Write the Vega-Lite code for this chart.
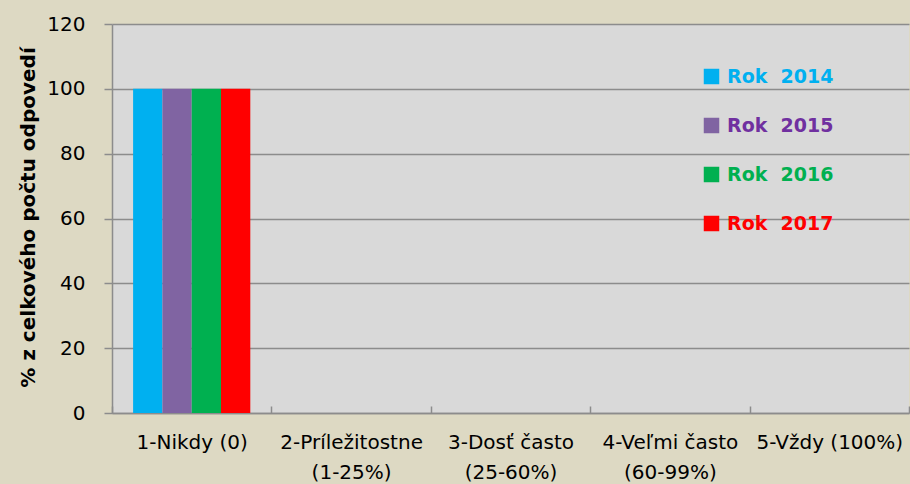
{
  "$schema": "https://vega.github.io/schema/vega-lite/v6.json",
  "width": 797,
  "height": 389,
  "autosize": {"type": "none"},
  "padding": {"left": 112, "top": 24, "right": 1, "bottom": 71},
  "background": "#ddd9c3",
  "config": {
    "view": {"fill": "#d9d9d9", "stroke": null},
    "font": "DejaVu Sans",
    "axis": {"labelFont": "DejaVu Sans", "titleFont": "DejaVu Sans"},
    "legend": {"labelFont": "DejaVu Sans"}
  },
  "data": {
    "values": [
      {"kategoria": "1-Nikdy (0)", "rok": "Rok  2014", "hodnota": 100},
      {"kategoria": "1-Nikdy (0)", "rok": "Rok  2015", "hodnota": 100},
      {"kategoria": "1-Nikdy (0)", "rok": "Rok  2016", "hodnota": 100},
      {"kategoria": "1-Nikdy (0)", "rok": "Rok  2017", "hodnota": 100},
      {"kategoria": "2-Príležitostne (1-25%)", "rok": "Rok  2014", "hodnota": 0},
      {"kategoria": "2-Príležitostne (1-25%)", "rok": "Rok  2015", "hodnota": 0},
      {"kategoria": "2-Príležitostne (1-25%)", "rok": "Rok  2016", "hodnota": 0},
      {"kategoria": "2-Príležitostne (1-25%)", "rok": "Rok  2017", "hodnota": 0},
      {"kategoria": "3-Dosť často (25-60%)", "rok": "Rok  2014", "hodnota": 0},
      {"kategoria": "3-Dosť často (25-60%)", "rok": "Rok  2015", "hodnota": 0},
      {"kategoria": "3-Dosť často (25-60%)", "rok": "Rok  2016", "hodnota": 0},
      {"kategoria": "3-Dosť často (25-60%)", "rok": "Rok  2017", "hodnota": 0},
      {"kategoria": "4-Veľmi často (60-99%)", "rok": "Rok  2014", "hodnota": 0},
      {"kategoria": "4-Veľmi často (60-99%)", "rok": "Rok  2015", "hodnota": 0},
      {"kategoria": "4-Veľmi často (60-99%)", "rok": "Rok  2016", "hodnota": 0},
      {"kategoria": "4-Veľmi často (60-99%)", "rok": "Rok  2017", "hodnota": 0},
      {"kategoria": "5-Vždy (100%)", "rok": "Rok  2014", "hodnota": 0},
      {"kategoria": "5-Vždy (100%)", "rok": "Rok  2015", "hodnota": 0},
      {"kategoria": "5-Vždy (100%)", "rok": "Rok  2016", "hodnota": 0},
      {"kategoria": "5-Vždy (100%)", "rok": "Rok  2017", "hodnota": 0}
    ]
  },
  "mark": {"type": "bar"},
  "encoding": {
    "x": {
      "field": "kategoria",
      "type": "nominal",
      "sort": null,
      "scale": {"paddingInner": 0, "paddingOuter": 0},
      "axis": {
        "title": null,
        "labelAngle": 0,
        "labelFontSize": 20,
        "labelColor": "#000000",
        "labelLineHeight": 30,
        "labelBaseline": "top",
        "labelPadding": 26,
        "labelOverlap": false,
        "tickBand": "extent",
        "tickSize": -7,
        "tickColor": "#8c8c8c",
        "tickWidth": 1.5,
        "domainColor": "#8c8c8c",
        "domainWidth": 1.5,
        "grid": false,
        "labelExpr": "(indexof(datum.label, 'Nikdy') >= 0 || indexof(datum.label, 'Vždy') >= 0) ? datum.label : split(replace(datum.label, ' (', '|('), '|')"
      }
    },
    "xOffset": {
      "field": "rok",
      "type": "nominal",
      "scale": {"paddingInner": 0, "paddingOuter": 0.72}
    },
    "y": {
      "field": "hodnota",
      "type": "quantitative",
      "scale": {"domain": [0, 120], "nice": false},
      "axis": {
        "title": "% z celkového počtu odpovedí",
        "titleFontSize": 20,
        "titleFontWeight": "bold",
        "titleColor": "#000000",
        "titleX": -84,
        "titleY": 193,
        "titleBaseline": "middle",
        "values": [0, 20, 40, 60, 80, 100, 120],
        "labelFontSize": 20,
        "labelColor": "#000000",
        "labelPadding": 19,
        "tickSize": 8,
        "tickColor": "#8c8c8c",
        "tickWidth": 1.5,
        "domainColor": "#8c8c8c",
        "domainWidth": 1.5,
        "gridColor": "#8c8c8c",
        "gridWidth": 1.5
      }
    },
    "color": {
      "field": "rok",
      "type": "nominal",
      "scale": {
        "domain": ["Rok  2014", "Rok  2015", "Rok  2016", "Rok  2017"],
        "range": ["#00b0f0", "#8064a2", "#00b050", "#ff0000"]
      },
      "legend": {
        "title": null,
        "orient": "none",
        "legendX": 590,
        "legendY": 43,
        "symbolType": "square",
        "symbolSize": 240,
        "symbolStrokeWidth": 0,
        "labelFontSize": 19,
        "labelFontWeight": "bold",
        "rowPadding": 29,
        "labelOffset": 6,
        "labelExpr": "replace(datum.label, '  ', ' \u00a0')",
        "encode": {
          "labels": {
            "update": {
              "fill": {"signal": "datum.value == 'Rok  2015' ? '#7030a0' : scale('color', datum.value)"}
            }
          }
        }
      }
    }
  }
}
